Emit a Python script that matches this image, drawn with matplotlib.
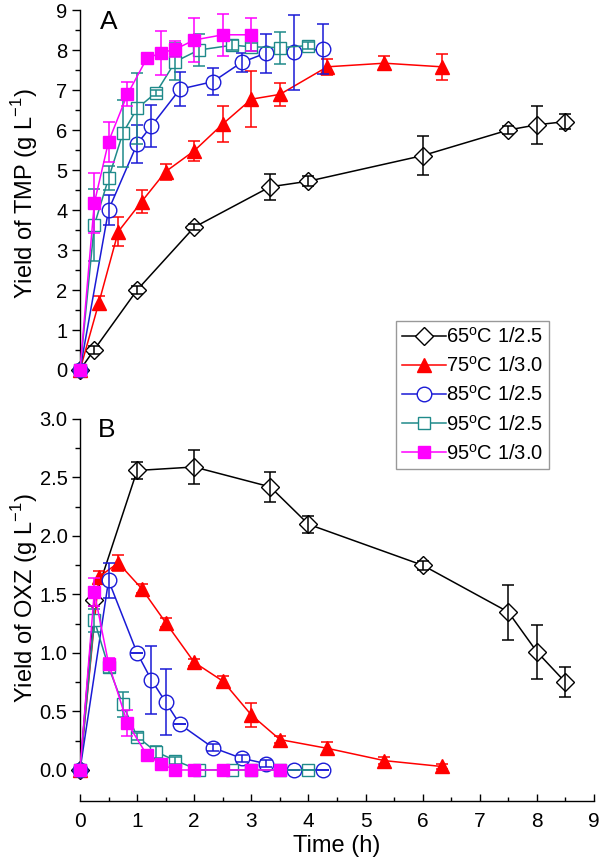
import matplotlib
matplotlib.use("Agg")
import matplotlib.pyplot as plt
from matplotlib.ticker import MultipleLocator

plt.rcParams['font.family'] = ['Liberation Sans', 'DejaVu Sans']
plt.rcParams['mathtext.fontset'] = 'custom'
plt.rcParams['mathtext.rm'] = 'Liberation Sans'

labels = [r'65$^{\mathrm{o}}$C 1/2.5', r'75$^{\mathrm{o}}$C 1/3.0', r'85$^{\mathrm{o}}$C 1/2.5',
          r'95$^{\mathrm{o}}$C 1/2.5', r'95$^{\mathrm{o}}$C 1/3.0']

# ---- Panel A: TMP ----
t65 = [0, 0.25, 1, 2, 3.33, 4, 6, 7.5, 8, 8.5]
tmp65 = [0, 0.51, 2.0, 3.57, 4.58, 4.72, 5.36, 6.0, 6.13, 6.21]
tmp65_err = [0, 0.1, 0.1, 0.08, 0.33, 0.12, 0.48, 0.1, 0.47, 0.18]

t75 = [0, 0.33, 0.67, 1.08, 1.5, 2, 2.5, 3, 3.5, 4.33, 5.33, 6.33]
tmp75 = [0, 1.68, 3.46, 4.21, 4.96, 5.48, 6.15, 6.77, 6.89, 7.58, 7.67, 7.58]
tmp75_err = [0, 0.18, 0.37, 0.28, 0.2, 0.25, 0.46, 0.7, 0.28, 0.2, 0.17, 0.32]

t85_a = [0, 0.5, 1, 1.25, 1.75, 2.33, 2.83, 3.25, 3.75, 4.25]
tmp85 = [0, 4.0, 5.65, 6.1, 7.02, 7.21, 7.69, 7.92, 7.94, 8.03]
tmp85_err = [0, 0.38, 0.48, 0.52, 0.43, 0.34, 0.24, 0.49, 0.93, 0.62]

t95a = [0, 0.25, 0.5, 0.75, 1.0, 1.33, 1.67, 2.08, 2.67, 3.0, 3.5, 4.0]
tmp95a = [0, 3.62, 4.79, 5.92, 6.54, 6.93, 7.71, 8.0, 8.12, 8.08, 8.06, 8.11]
tmp95a_err = [0, 0.9, 0.3, 0.84, 0.88, 0.08, 0.46, 0.4, 0.12, 0.1, 0.4, 0.08]

t95b_a = [0, 0.25, 0.5, 0.83, 1.17, 1.42, 1.67, 2.0, 2.5, 3.0]
tmp95b = [0, 4.17, 5.71, 6.89, 7.79, 7.93, 8.02, 8.25, 8.38, 8.38]
tmp95b_err = [0, 0.75, 0.5, 0.3, 0.05, 0.55, 0.2, 0.56, 0.53, 0.41]

# ---- Panel B: OXZ ----
oxz65 = [0, 1.45, 2.56, 2.59, 2.42, 2.1, 1.75, 1.35, 1.01, 0.75]
oxz65_err = [0, 0.05, 0.075, 0.145, 0.13, 0.075, 0.04, 0.235, 0.23, 0.13]

oxz75 = [0, 1.65, 1.77, 1.55, 1.26, 0.92, 0.76, 0.47, 0.26, 0.185, 0.08, 0.03]
oxz75_err = [0, 0.05, 0.07, 0.04, 0.04, 0.03, 0.04, 0.1, 0.03, 0.05, 0.03, 0.02]

t85_b = [0, 0.5, 1, 1.25, 1.5, 1.75, 2.33, 2.83, 3.25, 3.75, 4.25]
oxz85 = [0, 1.62, 1.0, 0.77, 0.58, 0.39, 0.19, 0.10, 0.055, 0.0, 0.0]
oxz85_err = [0, 0.15, 0.0, 0.29, 0.28, 0.0, 0.03, 0.03, 0.03, 0, 0]

oxz95a = [0, 1.28, 0.88, 0.56, 0.285, 0.156, 0.08, 0, 0, 0, 0, 0]
oxz95a_err = [0, 0.1, 0.05, 0.11, 0.03, 0.05, 0.03, 0, 0, 0, 0, 0]

t95b_b = [0, 0.25, 0.5, 0.83, 1.17, 1.42, 1.67, 2.0, 2.5, 3.0, 3.5]
oxz95b = [0, 1.52, 0.91, 0.4, 0.13, 0.05, 0, 0, 0, 0, 0]
oxz95b_err = [0, 0.12, 0.05, 0.11, 0.03, 0.02, 0, 0, 0, 0, 0]

colors = ['black', '#ff0000', '#1a1ad6', '#1f8a8a', '#ff00ff']
markers = ['D', '^', 'o', 's', 's']
msizes = [9.5, 10, 10.5, 9, 9]
mfcs = ['white', '#ff0000', 'white', 'white', '#ff00ff']

W, H = 600, 866
fig = plt.figure(figsize=(6.0, 8.66), dpi=100)
L, R = 80 / W, 594 / W
axA = fig.add_axes([L, 1 - 378 / H, R - L, (378 - 10) / H])
axB = fig.add_axes([L, 1 - 777 / H, R - L, (777 - 419) / H])

seriesA = [(t65, tmp65, tmp65_err), (t75, tmp75, tmp75_err), (t85_a, tmp85, tmp85_err),
           (t95a, tmp95a, tmp95a_err), (t95b_a, tmp95b, tmp95b_err)]
seriesB = [(t65, oxz65, oxz65_err), (t75, oxz75, oxz75_err), (t85_b, oxz85, oxz85_err),
           (t95a, oxz95a, oxz95a_err), (t95b_b, oxz95b, oxz95b_err)]

handles = []
for ax, series in ((axA, seriesA), (axB, seriesB)):
    for i, (x, y, e) in enumerate(series):
        z = 2 + i
        h, = ax.plot(x, y, color=colors[i], lw=1.1, marker=markers[i], ms=msizes[i],
                     mfc=mfcs[i], mec=colors[i], mew=1.0, zorder=z, clip_on=False)
        ax.errorbar(x, y, yerr=e, fmt='none', ecolor=colors[i], elinewidth=1.1,
                    capsize=4, capthick=1.1, zorder=z + 0.5, clip_on=False)
        if ax is axA:
            handles.append(h)

for ax in (axA, axB):
    ax.set_xlim(0, 9)
    ax.spines['top'].set_visible(False)
    ax.spines['right'].set_visible(False)
    ax.tick_params(axis='y', direction='out', length=6, width=1, labelsize=14.5, pad=3)
    ax.tick_params(axis='y', which='minor', direction='out', length=3.5, width=1)
    ax.spines['left'].set_linewidth(1)
    ax.spines['bottom'].set_linewidth(1)

axA.set_ylim(-0.2, 9)
axA.yaxis.set_major_locator(MultipleLocator(1))
axA.yaxis.set_minor_locator(MultipleLocator(0.5))
axA.spines['bottom'].set_visible(False)
axA.tick_params(axis='x', which='both', bottom=False, labelbottom=False)
axA.set_ylabel(r'Yield of TMP (g L$^{-1}$)', fontsize=17)
axA.yaxis.set_label_coords(-40 / 514, 0.5)

axB.set_ylim(-0.06, 3.0)
axB.yaxis.set_major_locator(MultipleLocator(0.5))
axB.yaxis.set_minor_locator(MultipleLocator(0.25))
axB.yaxis.set_major_formatter(plt.FormatStrFormatter('%.1f'))
axB.spines['bottom'].set_position(('outward', 24 * 72 / 100))
axB.xaxis.set_major_locator(MultipleLocator(1))
axB.xaxis.set_minor_locator(MultipleLocator(0.5))
axB.tick_params(axis='x', direction='in', length=5, width=1, labelsize=15, pad=8)
axB.tick_params(axis='x', which='minor', direction='in', length=3, width=1)
axB.set_ylabel(r'Yield of OXZ (g L$^{-1}$)', fontsize=17)
axB.yaxis.set_label_coords(-40 / 514, 0.5)
axB.set_xlabel('Time (h)', fontsize=17, labelpad=3)

fig.text(109 / W, 1 - 22 / H, 'A', fontsize=19, ha='center', va='center')
fig.text(107 / W, 1 - 430 / H, 'B', fontsize=19, ha='center', va='center')

leg = fig.legend(handles, labels, loc='upper left', bbox_to_anchor=(396 / W, 1 - 321 / H),
                 borderaxespad=0, fontsize=14.5, frameon=True, fancybox=False,
                 edgecolor='#808080', handlelength=2.2, handletextpad=0.0,
                 labelspacing=0.45, borderpad=0.3)
leg.get_frame().set_linewidth(1.0)

fig.savefig('out.png', dpi=100)
